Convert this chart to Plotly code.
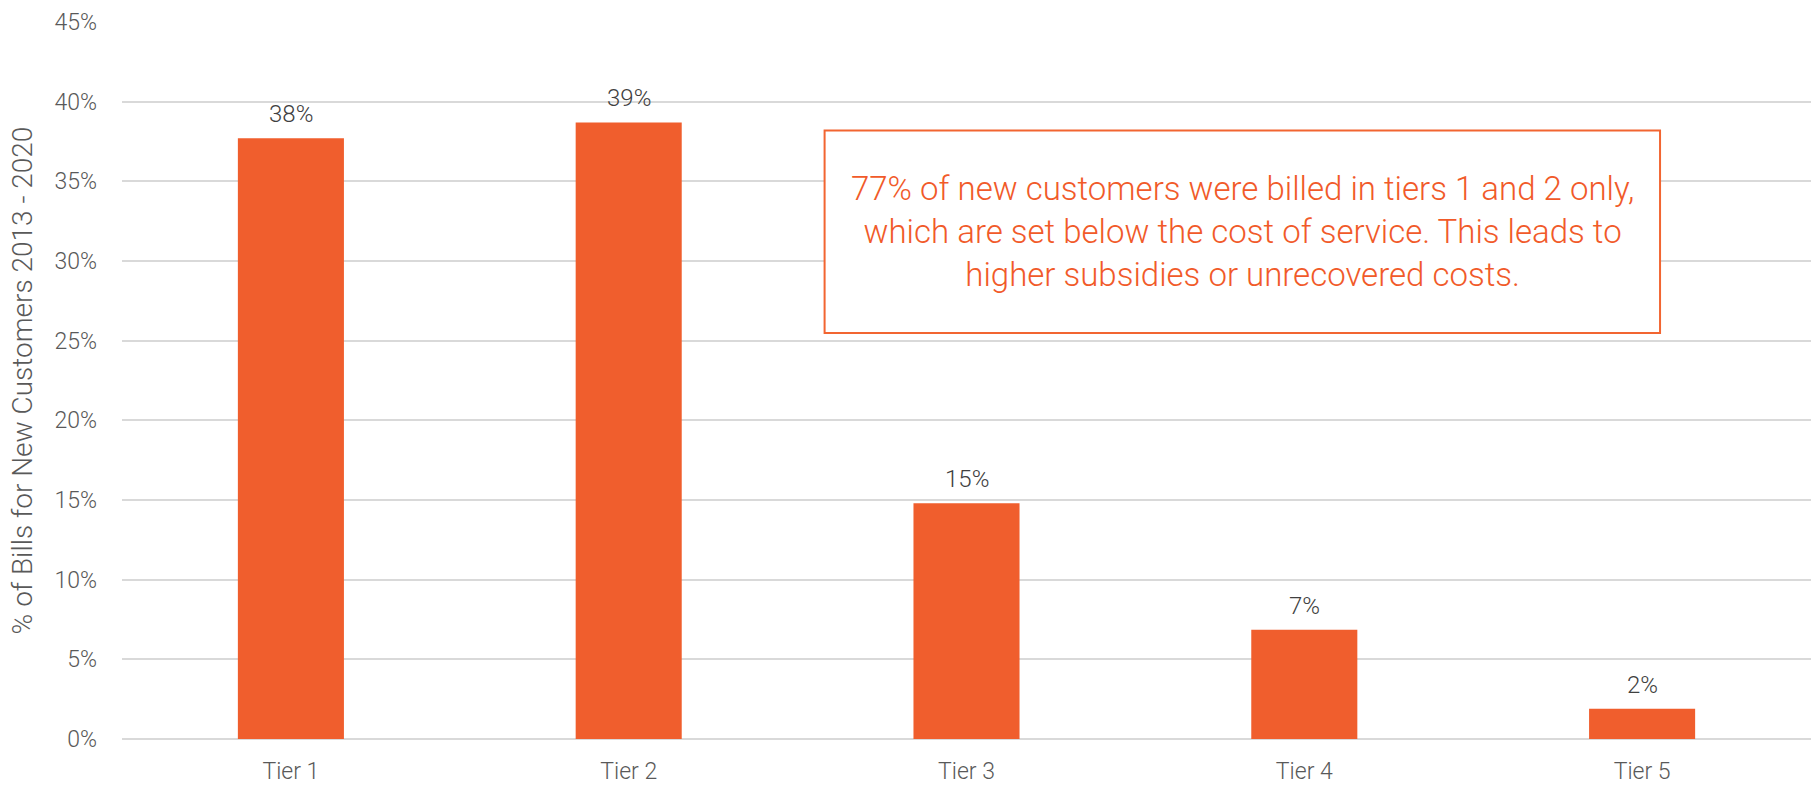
import plotly.graph_objects as go

# Share of bills for new customers by rate tier, 2013 - 2020
tiers = ["Tier 1", "Tier 2", "Tier 3", "Tier 4", "Tier 5"]
share_pct = [37.7, 38.7, 14.8, 6.85, 1.9]

y_ticks = [0, 5, 10, 15, 20, 25, 30, 35, 40, 45]
y_tick_text = [f"{v}%" for v in y_ticks]

callout_text = (
    "77% of new customers were billed in tiers 1 and 2 only,<br>"
    "which are set below the cost of service. This leads to<br>"
    "higher subsidies or unrecovered costs."
)

BAR_COLOR = "#F05E2D"
TEXT_FONT = "Roboto, sans-serif"

fig = go.Figure()
fig.add_trace(
    go.Bar(
        x=tiers,
        y=share_pct,
        marker=dict(color=BAR_COLOR, line=dict(width=0)),
        hoverinfo="skip",
    )
)

# value labels above each bar
for t, v in zip(tiers, share_pct):
    fig.add_annotation(
        x=t, y=v, xref="x", yref="y",
        text=f"{v:.0f}%",
        showarrow=False,
        yanchor="bottom",
        yshift=8,
        font=dict(family=TEXT_FONT, size=24, color="#404040", weight=300),
    )

# boxed callout
fig.add_shape(
    type="rect", xref="paper", yref="paper",
    x0=(824.3 - 121.5) / 1689.5, x1=(1660 - 121.5) / 1689.5,
    y0=(739.3 - 333.3) / 717, y1=(739.3 - 130.7) / 717,
    line=dict(color="#F26531", width=2),
    fillcolor="white",
    layer="above",
)
fig.add_annotation(
    xref="paper", yref="paper",
    x=((824.3 + 1660) / 2 - 121.5) / 1689.5,
    y=(739.3 - 232) / 717,
    text=callout_text,
    showarrow=False,
    xanchor="center", yanchor="middle", align="center",
    font=dict(family=TEXT_FONT, size=33, color="#F15A29", weight=300),
)

fig.update_layout(
    width=1813,
    height=785,
    margin=dict(l=121.5, r=2, t=22.3, b=45.7, autoexpand=False),
    paper_bgcolor="white",
    plot_bgcolor="white",
    bargap=0.686,
    showlegend=False,
    font=dict(family=TEXT_FONT, color="#595959"),
)
fig.update_xaxes(
    tickfont=dict(family=TEXT_FONT, size=23, color="#595959", weight=300),
    showgrid=False,
    showline=False,
    ticks="",
    ticklabelstandoff=16,
    automargin=False,
)
fig.update_yaxes(
    range=[0, 45],
    tickvals=y_ticks,
    ticktext=y_tick_text,
    tickfont=dict(family=TEXT_FONT, size=23, color="#595959", weight=300),
    showgrid=True,
    gridcolor="#D9D9D9",
    gridwidth=1.5,
    zeroline=True,
    zerolinecolor="#D9D9D9",
    zerolinewidth=1.5,
    showline=False,
    ticks="",
    ticklabelstandoff=24,
    automargin=False,
    title=dict(
        text="% of Bills for New Customers 2013 - 2020",
        font=dict(family=TEXT_FONT, size=28, color="#595959", weight=300),
        standoff=13,
    ),
)

fig.write_html("out.html")
